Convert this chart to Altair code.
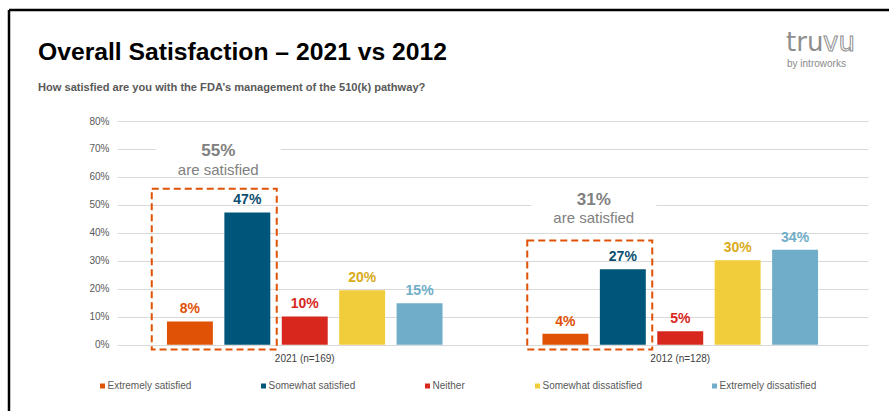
import altair as alt
import pandas as pd

# ---------------- data ----------------
groups = ["2021 (n=169)", "2012 (n=128)"]
categories = ["Extremely satisfied", "Somewhat satisfied", "Neither",
              "Somewhat dissatisfied", "Extremely dissatisfied"]
values_2021 = [8.3, 47.3, 10.1, 19.5, 14.8]
values_2012 = [3.9, 27.0, 4.8, 30.2, 34.0]
labels_2021 = ["8%", "47%", "10%", "20%", "15%"]
labels_2012 = ["4%", "27%", "5%", "30%", "34%"]
satisfied_totals = ["55%", "31%"]
y_ticks = [0, 10, 20, 30, 40, 50, 60, 70, 80]

bar_colors = ["#E05206", "#00567A", "#D8281E", "#F2CD3B", "#70ADC8"]
label_colors = ["#E05206", "#0B4F70", "#D8281E", "#D9AB1C", "#70ADC8"]

rows = []
for g, vals, labs in [(groups[0], values_2021, labels_2021), (groups[1], values_2012, labels_2012)]:
    for c, v, l, lc in zip(categories, vals, labs, label_colors):
        rows.append({"group": g, "category": c, "value": v, "label": l, "label_color": lc})
df = pd.DataFrame(rows)

# annotation layout (box around the "satisfied" bars and the callout text)
box_top = [55.8, 37.3]
box_bottom = -1.7
head_y = [69.2, 51.8]
sub_y = [62.3, 45.4]
ann = pd.DataFrame({
    "group": groups,
    "total": satisfied_totals,
    "top": box_top,
    "bottom": [box_bottom] * 2,
    "head": head_y,
    "sub": sub_y,
    "gap_lo": [h - 3.2 for h in head_y],
    "gap_hi": [h + 3.2 for h in head_y],
    "txt": ["are satisfied"] * 2,
})

FONT = "Liberation Sans"

x_axis = alt.Axis(title=None, labelAngle=0, ticks=False, domain=False,
                  labelPadding=9, labelFontSize=10, labelColor="#404040",
                  labelFont=FONT)
x_scale = alt.Scale(paddingInner=0, paddingOuter=0)
y_scale = alt.Scale(domain=[0, 80], nice=False, zero=False)
y_axis = alt.Axis(title=None, values=y_ticks,
                  labelExpr="datum.value + '%'", ticks=False, domain=False,
                  labelPadding=8, labelFontSize=10, labelColor="#595959",
                  labelFont=FONT, gridColor="#D9D9D9", gridWidth=1,
                  labelOverlap=False)


def X():
    return alt.X("group:N", sort=groups, scale=x_scale, axis=x_axis)


def Y(field):
    return alt.Y(field, scale=y_scale, axis=y_axis)


xo_enc = alt.XOffset("category:N", sort=categories,
                     scale=alt.Scale(paddingInner=0.2, paddingOuter=0.87))

bars = alt.Chart(df).mark_bar().encode(
    x=X(), xOffset=xo_enc, y=Y("value:Q"),
    color=alt.Color("category:N", sort=categories,
                    scale=alt.Scale(domain=categories, range=bar_colors),
                    legend=alt.Legend(title=None, orient="none", direction="horizontal",
                                      legendX=-19.5, legendY=260, columns=5,
                                      columnPadding=67, symbolType="square",
                                      symbolSize=25, symbolStrokeWidth=0,
                                      labelOffset=0, labelFontSize=10,
                                      labelColor="#595959", labelFont=FONT,
                                      padding=0)),
)

bar_labels = alt.Chart(df).mark_text(baseline="bottom", dy=-5, fontSize=14,
                                     fontWeight="bold", font=FONT).encode(
    x=X(), xOffset=xo_enc, y=Y("value:Q"), text="label:N",
    fill=alt.Fill("label_color:N", scale=None),
)

gap = alt.Chart(ann).mark_bar(width=125, xOffset=-86.5, color="white").encode(
    x=X(), y=Y("gap_lo:Q"), y2="gap_hi:Q")

box = alt.Chart(ann).mark_bar(width=125, xOffset=-90.5, fill=None, stroke="#E05206",
                              strokeWidth=2, strokeDash=[7, 4]).encode(
    x=X(), y=Y("top:Q"), y2="bottom:Q")

head = alt.Chart(ann).mark_text(dx=-86.5, fontSize=17, fontWeight="bold",
                                color="#808080", font=FONT, baseline="middle").encode(
    x=X(), y=Y("head:Q"), text="total:N")

sub = alt.Chart(ann).mark_text(dx=-86.5, fontSize=15, color="#808080", font=FONT,
                               baseline="middle").encode(
    x=X(), y=Y("sub:Q"), text="txt:N")

# page decorations (positions relative to plot origin at 117,121)
OX, OY = 117, 121
title_df = pd.DataFrame({"t": ["Overall Satisfaction – 2021 vs 2012"]})
title = alt.Chart(title_df).mark_text(align="left", baseline="alphabetic", fontSize=24.7,
                                      fontWeight="bold", font=FONT,
                                      color="#000000").encode(
    x=alt.value(38 - OX), y=alt.value(60 - OY), text="t:N")

subt_df = pd.DataFrame({"t": ["How satisfied are you with the FDA’s management of the 510(k) pathway?"]})
subtitle = alt.Chart(subt_df).mark_text(align="left", baseline="alphabetic", fontSize=11.1,
                                        fontWeight="bold", font=FONT, color="#595959").encode(
    x=alt.value(38 - OX), y=alt.value(91 - OY), text="t:N")

logo1 = alt.Chart(pd.DataFrame({"t": ["tru"]})).mark_text(
    align="left", baseline="alphabetic", fontSize=26, font="DejaVu Sans",
    color="#8F8F8F").encode(x=alt.value(786 - OX), y=alt.value(51 - OY), text="t:N")
logo2 = alt.Chart(pd.DataFrame({"t": ["vu"]})).mark_text(
    align="left", baseline="alphabetic", fontSize=26, font="DejaVu Sans",
    fill="white", stroke="#8F8F8F", strokeWidth=1).encode(
    x=alt.value(823 - OX), y=alt.value(51 - OY), text="t:N")
logo3 = alt.Chart(pd.DataFrame({"t": ["by introworks"]})).mark_text(
    align="left", baseline="middle", fontSize=10, font=FONT,
    color="#8A8A8A").encode(x=alt.value(787 - OX), y=alt.value(64 - OY), text="t:N")

frame_top = alt.Chart(pd.DataFrame({"a": [0]})).mark_rule(color="black", strokeWidth=2.5).encode(
    x=alt.value(9 - OX), x2=alt.value(889 - OX + 5), y=alt.value(10 - OY))
frame_left = alt.Chart(pd.DataFrame({"a": [0]})).mark_rule(color="black", strokeWidth=2.5).encode(
    x=alt.value(9 - OX), y=alt.value(10 - OY), y2=alt.value(411 - OY + 5))

chart = alt.layer(
    bars, gap, bar_labels, box, head, sub,
    title, subtitle, logo1, logo2, logo3, frame_top, frame_left,
).properties(
    width=751, height=223.7,
    padding={"left": OX, "top": OY, "right": 21, "bottom": 66.3},
    autosize=alt.AutoSizeParams(type="none"),
    background="white",
).configure_view(stroke=None)

chart.save("out.html", embed_options={"renderer": "svg", "actions": False})
